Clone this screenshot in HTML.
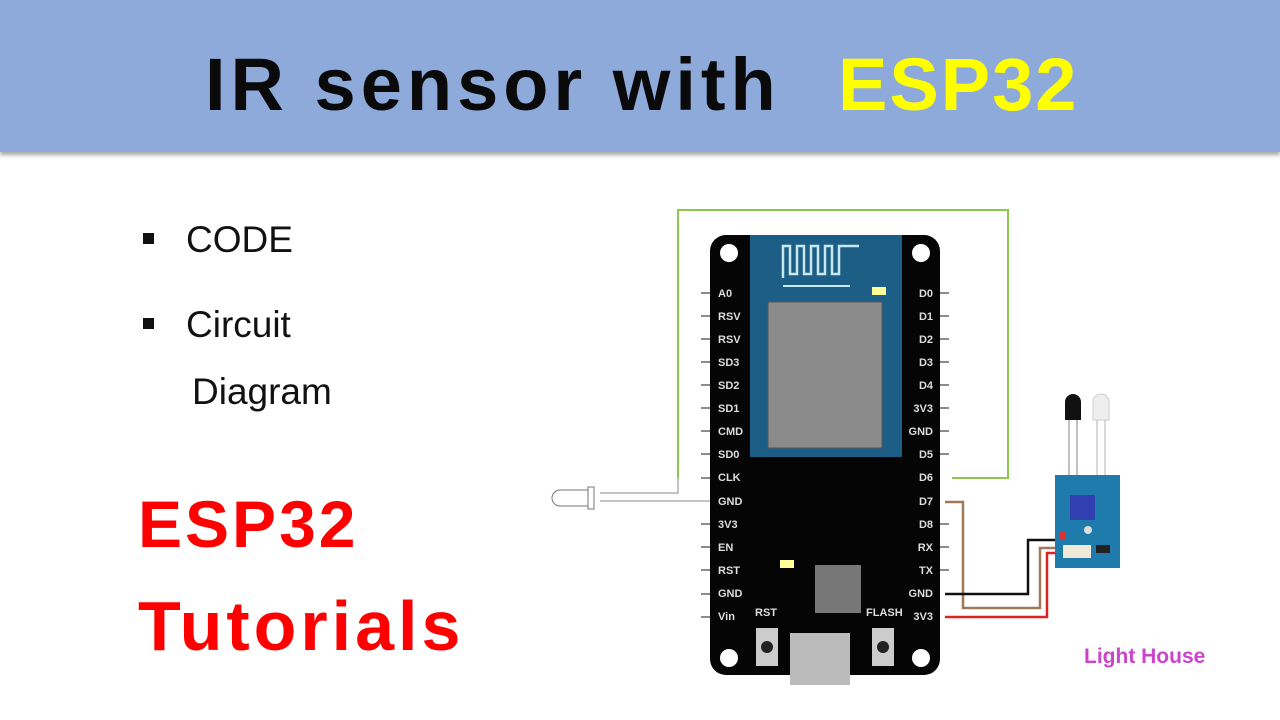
<!DOCTYPE html>
<html><head><meta charset="utf-8"><style>
body{margin:0;width:1280px;height:720px;background:#fff;overflow:hidden;position:relative;font-family:"Liberation Sans",sans-serif}
.hdr{position:absolute;left:0;top:0;width:1280px;height:152px;background:#8eaadb;box-shadow:0 3px 4px rgba(0,0,0,.35)}
.title{position:absolute;left:205px;top:42px;white-space:nowrap;font-weight:bold;font-size:74px;letter-spacing:5px;color:#0a0a0a}
.t{position:absolute;font-size:37px;color:#111}
.b{position:absolute;width:11px;height:11px;background:#111}
.red{position:absolute;left:138px;color:#f00;font-weight:bold;white-space:nowrap}
</style></head><body>
<div class="hdr"></div>
<div class="title">IR sensor with<span style="color:#ffff00;position:absolute;left:633px;letter-spacing:2px">ESP32</span></div>
<div class="b" style="left:143px;top:233px"></div><div class="t" style="left:186px;top:219px">CODE</div>
<div class="b" style="left:143px;top:318px"></div><div class="t" style="left:186px;top:304px">Circuit</div>
<div class="t" style="left:192px;top:371px">Diagram</div>
<div class="red" style="top:486px;font-size:66px;letter-spacing:3px">ESP32</div>
<div class="red" style="top:586px;font-size:70px;letter-spacing:4px">Tutorials</div>
<svg width="1280" height="720" style="position:absolute;left:0;top:0" font-family="Liberation Sans" font-weight="bold">
<polyline points="678,478 678,210 1008,210 1008,478 952,478" fill="none" stroke="#8cc850" stroke-width="2"/>
<polyline points="945,502 963,502 963,608 1040,608 1040,548 1075,548" fill="none" stroke="#a0785a" stroke-width="2.5"/>
<polyline points="945,594 1028,594 1028,540 1083,540 1083,552" fill="none" stroke="#111" stroke-width="2.5"/>
<polyline points="945,617 1047,617 1047,553 1070,553" fill="none" stroke="#d22" stroke-width="2.5"/>
<polyline points="600,493 678,493 678,478" fill="none" stroke="#888" stroke-width="1"/>
<line x1="600" y1="501" x2="712" y2="501" stroke="#888"/>
<path d="M560,490 h30 v16 h-30 a8,8 0 0 1 0,-16z" fill="#fff" stroke="#777"/>
<rect x="588" y="487" width="6" height="22" fill="#fff" stroke="#777"/>
<rect x="710" y="235" width="230" height="440" rx="16" fill="#050505"/>
<rect x="750" y="235" width="152" height="222" fill="#1d5e86"/>
<path d="M783,278 v-32 h7 v28 h7 v-28 h7 v28 h7 v-28 h7 v28 h7 v-28 h7 v28 h7 v-28 h20" fill="none" stroke="#c8e8f0" stroke-width="2.5"/>
<line x1="783" y1="286" x2="850" y2="286" stroke="#c8e8f0" stroke-width="2"/>
<rect x="872" y="287" width="14" height="8" fill="#ff9"/>
<rect x="768" y="302" width="114" height="146" fill="#8a8a8a" stroke="#555"/>
<circle cx="729" cy="253" r="9" fill="#fff"/><circle cx="921" cy="253" r="9" fill="#fff"/>
<circle cx="729" cy="658" r="9" fill="#fff"/><circle cx="921" cy="658" r="9" fill="#fff"/>
<rect x="780" y="560" width="14" height="8" fill="#ff9"/>
<rect x="815" y="565" width="46" height="48" fill="#777"/>
<rect x="790" y="633" width="60" height="52" fill="#bbb"/>
<rect x="756" y="628" width="22" height="38" fill="#ccc"/><circle cx="767" cy="647" r="6" fill="#222"/>
<rect x="872" y="628" width="22" height="38" fill="#ccc"/><circle cx="883" cy="647" r="6" fill="#222"/>
<text x="755" y="616" font-size="11" fill="#ddd">RST</text>
<text x="866" y="616" font-size="11" fill="#ddd">FLASH</text>
<g font-size="11" fill="#ddd">
<text x="718" y="297">A0</text><text x="718" y="320">RSV</text><text x="718" y="343">RSV</text><text x="718" y="366">SD3</text><text x="718" y="389">SD2</text><text x="718" y="412">SD1</text><text x="718" y="435">CMD</text><text x="718" y="458">SD0</text><text x="718" y="481">CLK</text><text x="718" y="505">GND</text><text x="718" y="528">3V3</text><text x="718" y="551">EN</text><text x="718" y="574">RST</text><text x="718" y="597">GND</text><text x="718" y="620">Vin</text>
</g>
<g font-size="11" fill="#ddd" text-anchor="end">
<text x="933" y="297">D0</text><text x="933" y="320">D1</text><text x="933" y="343">D2</text><text x="933" y="366">D3</text><text x="933" y="389">D4</text><text x="933" y="412">3V3</text><text x="933" y="435">GND</text><text x="933" y="458">D5</text><text x="933" y="481">D6</text><text x="933" y="505">D7</text><text x="933" y="528">D8</text><text x="933" y="551">RX</text><text x="933" y="574">TX</text><text x="933" y="597">GND</text><text x="933" y="620">3V3</text>
</g>
<g stroke="#666" stroke-width="1.5">
<path d="M701,293h9M701,316h9M701,339h9M701,362h9M701,385h9M701,408h9M701,431h9M701,454h9M701,478h9M701,524h9M701,547h9M701,570h9M701,594h9M701,617h9"/>
<path d="M940,293h9M940,316h9M940,339h9M940,362h9M940,385h9M940,408h9M940,431h9M940,454h9M940,524h9M940,547h9M940,570h9"/>
</g>
<line x1="1069" y1="418" x2="1069" y2="480" stroke="#aaa" stroke-width="1.5"/><line x1="1077" y1="418" x2="1077" y2="480" stroke="#aaa" stroke-width="1.5"/>
<line x1="1097" y1="418" x2="1097" y2="480" stroke="#ccc" stroke-width="1.5"/><line x1="1105" y1="418" x2="1105" y2="480" stroke="#ccc" stroke-width="1.5"/>
<path d="M1065,420 v-18 a8,8 0 0 1 16,0 v18z" fill="#111"/>
<path d="M1093,420 v-18 a8,8 0 0 1 16,0 v18z" fill="#eee" stroke="#ccc"/>
<rect x="1055" y="475" width="65" height="93" fill="#1f7bab"/>
<rect x="1070" y="495" width="25" height="25" fill="#3040b0"/>
<circle cx="1088" cy="530" r="4" fill="#ddd"/>
<rect x="1060" y="531" width="6" height="8" fill="#d33"/>
<rect x="1063" y="545" width="28" height="13" fill="#f2ead8"/>
<rect x="1096" y="545" width="14" height="8" fill="#222"/>
<text x="1084" y="663" font-size="21" fill="#cc44cc">Light House</text>
</svg>
</body></html>
